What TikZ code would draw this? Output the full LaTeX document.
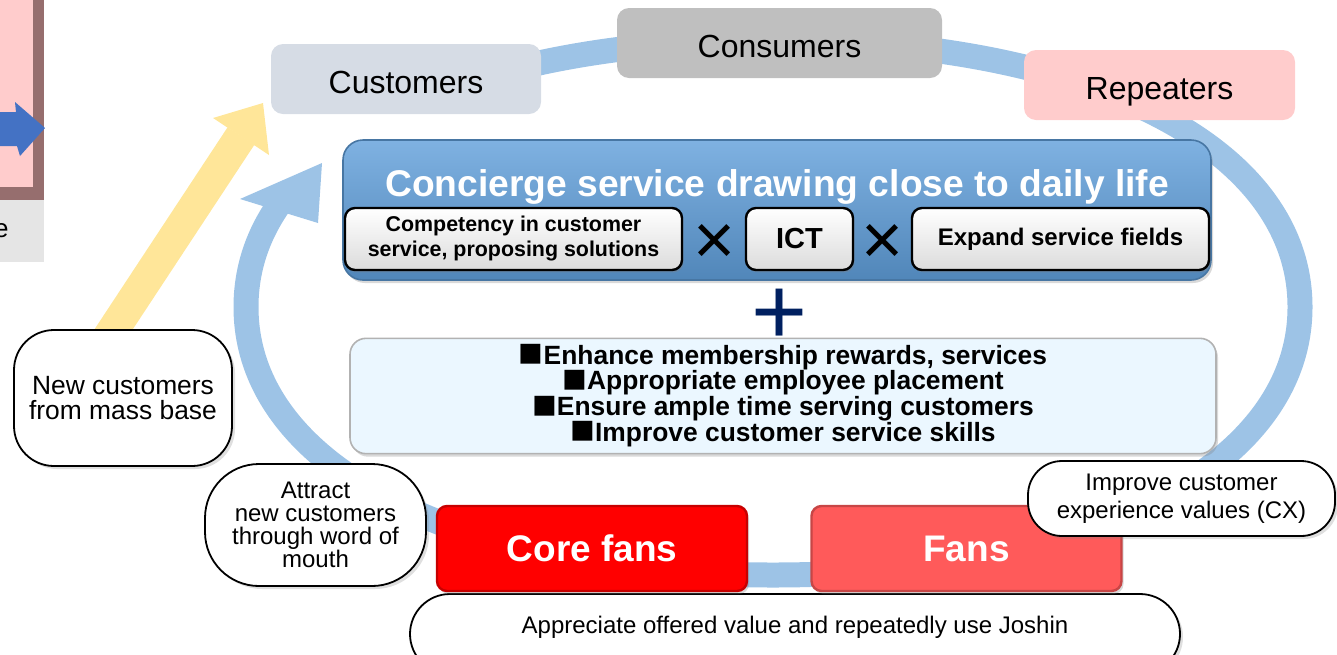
\documentclass[tikz,border=0pt]{standalone}
\usepackage{fontspec}
\setmainfont{Liberation Sans}
\usetikzlibrary{shadows}
\definecolor{cring}{RGB}{157,195,230}
\definecolor{cyellow}{RGB}{255,230,153}
\definecolor{ccust}{RGB}{214,220,229}
\definecolor{ccons}{RGB}{191,191,191}
\definecolor{crep}{RGB}{255,204,204}
\definecolor{cbevel}{RGB}{150,110,110}
\definecolor{cblue}{RGB}{95,158,218}
\definecolor{cpale}{RGB}{235,247,255}
\definecolor{cnavy}{RGB}{0,32,96}
\definecolor{ccore}{RGB}{255,0,0}
\definecolor{cfans}{RGB}{255,90,90}
\definecolor{carrow}{RGB}{68,114,196}
\tikzset{
  stage/.style={rounded corners=6pt,minimum height=35pt,text height=14.5pt,text depth=0pt,
    font=\fontsize{16}{19}\selectfont},
  tag/.style={draw=black,line width=1.2pt,top color=white,middle color=white,bottom color=black!14,
    rounded corners=5pt,minimum height=31pt,inner sep=2pt,font=\bfseries\fontsize{12}{14}\selectfont,
    drop shadow={shadow xshift=0.8pt,shadow yshift=-1.2pt,opacity=0.35}},
  bubble/.style={draw=black,line width=0.9pt,fill=white,align=center,inner sep=2pt,
    font=\fontsize{12}{11.4}\selectfont,
    drop shadow={shadow xshift=1.5pt,shadow yshift=-1.5pt,opacity=0.25}},
  fanbox/.style={rounded corners=5pt,minimum width=155pt,minimum height=42.5pt,text=white,
    line width=1.2pt,font=\bfseries\fontsize{18.5}{22}\selectfont,
    drop shadow={shadow xshift=1pt,shadow yshift=-1.5pt,opacity=0.3}},
  cross/.style={font=\fontsize{36}{40}\selectfont},
}
\newcommand{\blt}{\smash{\raisebox{-1.2pt}{\fontsize{20.5}{12.9}\selectfont ■}}}

\begin{document}
\begin{tikzpicture}[x=0.5pt,y=-0.5pt]
  \useasboundingbox (0,0) rectangle (1337,654);
  % cut-off slide on the left
  \fill[cbevel] (-20,-20) rectangle (44,200);
  \fill[crep] (-20,-20) rectangle (33,187);
  \fill[black!10] (-20,200) rectangle (44,262);
  \node[anchor=base east,inner sep=0pt,font=\fontsize{13}{15}\selectfont] (cutlabel) at (9,237) {e};
  \fill[carrow] (-20,112) -- (16,112) -- (15,102) -- (45,128) -- (20,156) -- (17,146) -- (-20,146) -- cycle;

  % arrow from the mass base
  \draw[cyellow,line width=16pt] (100,350) -- (241,136);
  \fill[cyellow] (213,118) -- (263,103) -- (269,155) -- cycle;

  % the ring
  \draw[cring,line width=12.5pt] (451,87.9) .. controls (537,57.1) and (646.6,40) .. (773,40)
    .. controls (1089,40) and (1300,147) .. (1300,307)
    .. controls (1300,467) and (1089,575) .. (773,575)
    .. controls (457,575) and (246,467) .. (246,307)
    .. controls (246,271.8) and (256.2,239.2) .. (275.5,209.7) -- (278.8,204.7);
  \fill[cring] (240,199) -- (322,163) -- (318,223) -- cycle;

  % stages
  \node[stage,fill=ccust,minimum width=135pt] (customers) at (406,79) {Customers};
  \node[stage,fill=ccons,minimum width=162.5pt] (consumers) at (779.5,43) {Consumers};
  \node[stage,fill=crep,minimum width=135.5pt] (repeaters) at (1159.5,85) {Repeaters};

  % concierge service
  \node[draw=cblue!75!black,line width=0.8pt,rounded corners=10pt,top color=cblue!80!white,
    middle color=cblue,bottom color=cblue!85!black,minimum width=434pt,minimum height=70pt,
    drop shadow={shadow xshift=1pt,shadow yshift=-1.5pt,opacity=0.3}] (concierge) at (777,210) {};
  \node[text=white,font=\bfseries\fontsize{18.6}{22}\selectfont] (title) at (777,187)
    {Concierge service drawing close to daily life};
  \node[tag,minimum width=168.5pt,align=center,font=\bfseries\fontsize{10.7}{12.5}\selectfont]
    (competency) at (513.5,239) {Competency in customer\\service, proposing solutions};
  \node[tag,minimum width=53.5pt,font=\bfseries\fontsize{14.5}{17}\selectfont] (ict) at (799.5,239) {ICT};
  \node[tag,minimum width=148.5pt] (expand) at (1060.5,239) {Expand service fields};
  \node[cross] (cross1) at (714.5,244) {×};
  \node[cross] (cross2) at (882.5,244) {×};
  \node[anchor=base,inner sep=0pt,text=cnavy,font=\fontsize{48}{50}\selectfont] (plus) at (780,344) {+};

  \node[draw=black!30,line width=0.8pt,fill=cpale,rounded corners=8pt,minimum width=433pt,
    minimum height=57.5pt,align=center,font=\bfseries\fontsize{13.2}{12.9}\selectfont,
    drop shadow={shadow xshift=1pt,shadow yshift=-1.5pt,opacity=0.3}] (measures) at (783,396)
    {\blt Enhance membership rewards, services\\\blt Appropriate employee placement\\
     \blt Ensure ample time serving customers\\\blt Improve customer service skills};

  % notes
  \node[bubble,rounded corners=20pt,minimum width=109pt,minimum height=68pt,
    font=\fontsize{13.2}{12.3}\selectfont] (newcust) at (123,398) {New customers\\from mass base};
  \node[bubble,rounded corners=27pt,minimum width=110.5pt,minimum height=61pt] (attract) at (315.5,525)
    {Attract\\new customers\\through word of\\mouth};
  \node[bubble,rounded corners=20pt,minimum width=385pt,minimum height=40pt,text depth=9.5pt]
    (appreciate) at (795,634) {Appreciate offered value and repeatedly use Joshin};

  % fans
  \node[fanbox,fill=ccore,draw=ccore!78!black] (corefans) at (592,548.5) {Core fans};
  \node[fanbox,fill=cfans,draw=cfans!78!black] (fans) at (966.5,548.5) {Fans};
  \node[bubble,rounded corners=17pt,minimum width=153.5pt,minimum height=37.5pt,
    font=\fontsize{12}{14}\selectfont] (improve) at (1181.5,498.5) {Improve customer\\experience values (CX)};
\end{tikzpicture}
\end{document}
